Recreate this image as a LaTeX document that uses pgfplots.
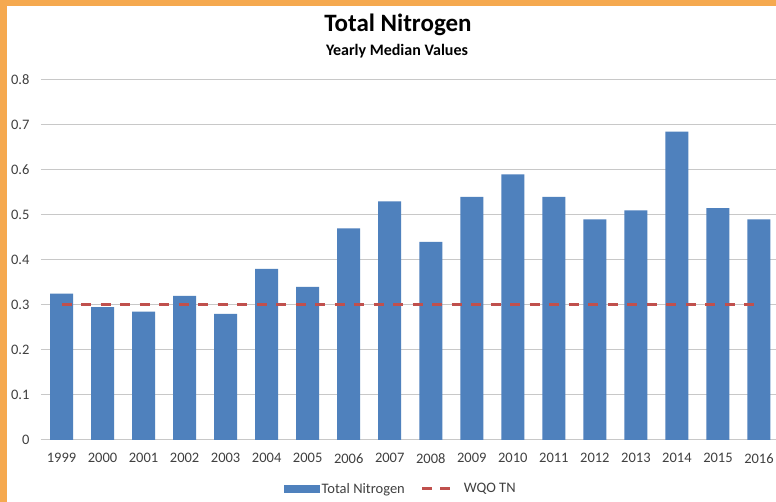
\documentclass[border=0pt]{standalone}
\usepackage{fontspec}
\setmainfont{Carlito}
\usepackage{pgfplots}
\usepackage{pgfplotstable}
\pgfplotsset{compat=1.18}
\definecolor{barblue}{HTML}{4F81BD}
\definecolor{wqored}{HTML}{C0504D}
\definecolor{gridgray}{HTML}{C8C8C8}
\definecolor{txtgray}{HTML}{404040}
\definecolor{frameorange}{HTML}{F5A94F}

% yearly median total nitrogen
\pgfplotstableread{
idx year tn
0  1999 0.325
1  2000 0.295
2  2001 0.285
3  2002 0.320
4  2003 0.280
5  2004 0.380
6  2005 0.340
7  2006 0.470
8  2007 0.530
9  2008 0.440
10 2009 0.540
11 2010 0.590
12 2011 0.540
13 2012 0.490
14 2013 0.510
15 2014 0.685
16 2015 0.515
17 2016 0.490
}\tndata

\begin{document}
\begin{tikzpicture}[x=1pt,y=1pt]
\useasboundingbox (0,0) rectangle (776,502);
\fill[white] (0,0) rectangle (776,502);
\fill[frameorange] (0,0) rectangle (7,502);
\fill[frameorange] (0,496) rectangle (776,502);

\node[font=\fontsize{25}{30}\selectfont\bfseries] at (398,477) {Total Nitrogen};
\node[font=\fontsize{16}{19}\selectfont\bfseries] at (397,451) {Yearly Median Values};

\begin{axis}[
  at={(41pt,62pt)}, anchor=south west, scale only axis,
  width=738.5pt, height=360pt,
  xmin=-0.5, xmax=17.5, ymin=0, ymax=0.8,
  xtick={0,...,17},
  xticklabels from table={\tndata}{year},
  ytick={0,0.1,0.2,0.3,0.4,0.5,0.6,0.7,0.8},
  /pgf/number format/assume math mode=true,
  ymajorgrids, grid style={gridgray, line width=1pt},
  axis x line*=bottom, axis y line*=left,
  y axis line style={draw=none},
  x axis line style={gridgray, line width=1pt, -},
  major tick length=0pt,
  tick label style={font=\fontsize{14.5}{17}\selectfont, text=txtgray},
  yticklabel style={xshift=-8pt},
  xticklabel style={yshift=-10pt},
  legend columns=2,
  legend style={at={(0.487,-0.136)}, anchor=center, draw=none, fill=none,
    font=\fontsize{14.5}{17}\selectfont, text=txtgray,
    /tikz/every even column/.append style={column sep=14pt}},
]
\addplot[ybar, bar width=23pt, fill=barblue, draw=none,
  legend image code/.code={\fill[barblue] (0pt,-4pt) rectangle (36pt,4pt);}]
  table[x=idx, y=tn] {\tndata};
\addlegendentry{Total Nitrogen}
\addplot[sharp plot, no markers, wqored, line width=3pt, dash pattern=on 10pt off 9.5pt,
  legend image code/.code={\draw[wqored, line width=3pt, dash pattern=on 10pt off 8pt] (0pt,0pt) -- (28pt,0pt);
    \path (38pt,0pt);}]
  coordinates {(0,0.3) (17,0.3)};
\addlegendentry{WQO TN}
\end{axis}
\end{tikzpicture}
\end{document}
